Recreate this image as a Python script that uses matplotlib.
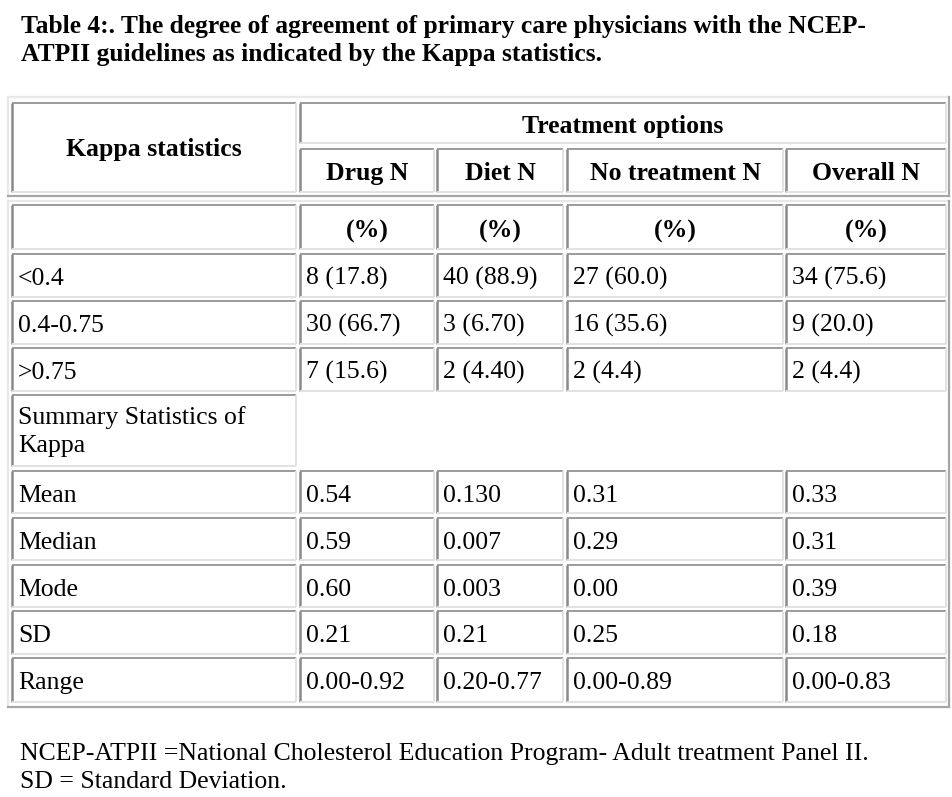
import matplotlib
matplotlib.use('Agg')
import matplotlib.pyplot as plt

# table content
title_lines = ['Table 4:. The degree of agreement of primary care physicians with the NCEP-',
               'ATPII guidelines as indicated by the Kappa statistics.']
group_header = 'Treatment options'
col_headers = ['Kappa statistics', 'Drug N', 'Diet N', 'No treatment N', 'Overall N']
pct_label = '(%)'

kappa_bins = ['<0.4', '0.4-0.75', '>0.75']
drug = ['8 (17.8)', '30 (66.7)', '7 (15.6)']
diet = ['40 (88.9)', '3 (6.70)', '2 (4.40)']
no_treatment = ['27 (60.0)', '16 (35.6)', '2 (4.4)']
overall = ['34 (75.6)', '9 (20.0)', '2 (4.4)']

summary_label = 'Summary Statistics of\nKappa'
stat_names = ['Mean', 'Median', 'Mode', 'SD', 'Range']
drug_stats = ['0.54', '0.59', '0.60', '0.21', '0.00-0.92']
diet_stats = ['0.130', '0.007', '0.003', '0.21', '0.20-0.77']
no_treatment_stats = ['0.31', '0.29', '0.00', '0.25', '0.00-0.89']
overall_stats = ['0.33', '0.31', '0.39', '0.18', '0.00-0.83']

footnotes = ['NCEP-ATPII =National Cholesterol Education Program- Adult treatment Panel II.',
             'SD = Standard Deviation.']

# layout (pixels)
W, H = 952, 797
COLS = [(12, 296), (300, 434), (437, 563), (567, 783), (786, 946)]
ROW_TOPS = [205, 254, 301, 348, 395, 471, 518, 565, 611, 658]
ROW_BOTS = [249, 297, 344, 391, 466, 513, 560, 607, 654, 702]
FONT = 'Liberation Serif'
FS = 18.5
DARK, LIGHT = '#8a8a8a', '#e2e2e2'
OUT_LIGHT, OUT_DARK = '#e8e8e8', '#a6a6a6'

fig = plt.figure(figsize=(W / 100, H / 100), dpi=100)
ax = fig.add_axes([0, 0, 1, 1])
ax.set_xlim(0, W)
ax.set_ylim(H, 0)
ax.axis('off')


def cell(x0, x1, y0, y1):
    # inset bevel: dark top/left, light bottom/right
    ax.plot([x0, x1], [y0, y0], color=DARK, lw=1.2, solid_capstyle='butt')
    ax.plot([x0, x0], [y0, y1], color=DARK, lw=1.8, solid_capstyle='butt')
    ax.plot([x0, x1], [y1, y1], color=LIGHT, lw=1.4, solid_capstyle='butt')
    ax.plot([x1, x1], [y0, y1], color=LIGHT, lw=1.4, solid_capstyle='butt')


def frame(x0, x1, y0, y1):
    # outset bevel of the whole table
    ax.plot([x0, x1], [y0, y0], color=OUT_LIGHT, lw=1.6)
    ax.plot([x0, x0], [y0, y1], color=OUT_LIGHT, lw=1.6)
    ax.plot([x0, x1], [y1, y1], color=OUT_DARK, lw=1.6)
    ax.plot([x1, x1], [y0, y1], color=OUT_DARK, lw=1.6)


def left_text(x0, y0, s, **kw):
    ax.text(x0 + 6, y0 + 31, s, family=FONT, fontsize=FS, va='baseline', ha='left', **kw)


def center_text(x0, x1, ybase, s, **kw):
    ax.text((x0 + x1) / 2, ybase, s, family=FONT, fontsize=FS, va='baseline',
            ha='center', fontweight='bold', **kw)


# title
for i, line in enumerate(title_lines):
    ax.text(21, 33 + 28 * i, line, family=FONT, fontsize=18.4, fontweight='bold', va='baseline')

# header table
frame(8, 949, 97, 196)
cell(COLS[0][0], COLS[0][1], 103, 192)
center_text(COLS[0][0], COLS[0][1], 156, col_headers[0])
cell(COLS[1][0], COLS[4][1], 103, 143)
center_text(COLS[1][0], COLS[4][1], 133, group_header)
for (x0, x1), name in zip(COLS[1:], col_headers[1:]):
    cell(x0, x1, 149, 192)
    center_text(x0, x1, 180, name)

# body table
frame(8, 949, 201, 707)
body = [[''] + [pct_label] * 4]
body += [list(r) for r in zip(kappa_bins, drug, diet, no_treatment, overall)]
body += [[summary_label]]
body += [list(r) for r in zip(stat_names, drug_stats, diet_stats, no_treatment_stats, overall_stats)]

for r, row in enumerate(body):
    y0, y1 = ROW_TOPS[r], ROW_BOTS[r]
    for c, val in enumerate(row):
        x0, x1 = COLS[c]
        cell(x0, x1, y0, y1)
        if r == 0:
            center_text(x0, x1, y0 + 33, val)
        elif '\n' in val:
            first, second = val.split('\n')
            ax.text(x0 + 6, y0 + 29, first, family=FONT, fontsize=FS, va='baseline')
            ax.text(x0 + 6, y0 + 57, second, family=FONT, fontsize=FS, va='baseline')
        else:
            left_text(x0, y0, val)

# footnotes
for i, line in enumerate(footnotes):
    ax.text(20, 760 + 28 * i, line, family=FONT, fontsize=FS, va='baseline')

fig.savefig('out.png', dpi=100, facecolor='white')
